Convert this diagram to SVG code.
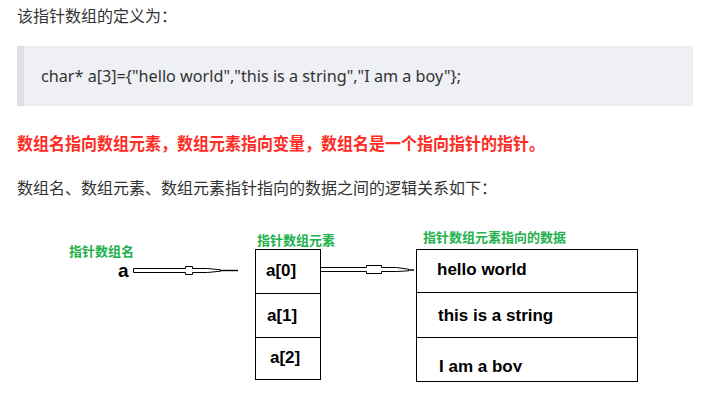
<svg xmlns="http://www.w3.org/2000/svg" width="722" height="401" viewBox="0 0 722 401">
<style>
.p{font-family:"Noto Sans CJK SC","Noto Sans",sans-serif;font-size:16px;fill:#333}
.red{font-family:"Noto Sans CJK SC",sans-serif;font-size:17px;font-weight:bold;fill:#fe2c24}
.code{font-family:"Noto Sans","Liberation Sans",sans-serif;font-size:16px;fill:#333}
.g{font-family:"Noto Sans CJK SC",sans-serif;font-size:13px;font-weight:bold;fill:#22b14c}
.t{font-family:"Liberation Sans",Arial,sans-serif;font-size:17px;font-weight:bold;fill:#000}
.box{fill:#fff;stroke:#000;stroke-width:1}
.arw{fill:#fff;stroke:#000;stroke-width:1}
.tip{stroke:#000;stroke-width:1.4}
</style>
<defs>
<clipPath id="clipBoy"><rect x="416" y="337" width="222" height="35"/></clipPath>
</defs>
<rect width="722" height="401" fill="#fff"/>
<g id="intro"><text class="p" x="17" y="22">该指针数组的定义为：</text></g>
<g id="codeblock">
<rect x="17" y="46" width="676" height="60" fill="#eef0f4"/>
<rect x="17" y="46" width="7" height="60" fill="#dddfe4"/>
<text class="code" x="41" y="82" textLength="420" lengthAdjust="spacingAndGlyphs">char* a[3]={"hello world","this is a string","I am a boy"};</text>
</g>
<g id="highlight"><text class="red" x="17" y="150" textLength="528" lengthAdjust="spacingAndGlyphs">数组名指向数组元素，数组元素指向变量，数组名是一个指向指针的指针。</text></g>
<g id="desc"><text class="p" x="17" y="194">数组名、数组元素、数组元素指针指向的数据之间的逻辑关系如下：</text></g>

<g id="array-name">
<text class="g" x="69" y="256">指针数组名</text>
<text class="t" x="118" y="277" style="font-size:19px">a</text>
</g>

<g id="elements">
<text class="g" x="257" y="245">指针数组元素</text>
<rect class="box" x="255.5" y="249.5" width="65" height="130"/>
<line x1="255.5" y1="293.5" x2="320.5" y2="293.5" stroke="#000"/>
<line x1="255.5" y1="337.5" x2="320.5" y2="337.5" stroke="#000"/>
<text class="t" x="266" y="276">a[0]</text>
<text class="t" x="267" y="321">a[1]</text>
<text class="t" x="270" y="363">a[2]</text>
</g>

<g id="data">
<text class="g" x="423" y="242">指针数组元素指向的数据</text>
<rect class="box" x="416.5" y="249.5" width="221" height="132"/>
<line x1="416.5" y1="292.5" x2="637.5" y2="292.5" stroke="#000"/>
<line x1="416.5" y1="337.5" x2="637.5" y2="337.5" stroke="#000"/>
<text class="t" x="437" y="275">hello world</text>
<text class="t" x="438" y="321">this is a string</text>
<text class="t" x="439" y="372" clip-path="url(#clipBoy)">I am a boy</text>
</g>

<g id="connectors">
<path class="arw" d="M133.5,268.5 H185.5 V266.5 H192.5 V268.5 H207.5 L220.5,269.8 V271.2 L207.5,272.5 H192.5 V274.5 H185.5 V272.5 H133.5 Z"/>
<line class="tip" x1="220" y1="270.5" x2="238" y2="270.5"/>
<path class="arw" d="M320.5,267.5 H366.5 V265.5 H381.5 V267.5 H396.5 L408.5,269.2 V270.8 L396.5,271.5 H381.5 V273.5 H366.5 V271.5 H320.5 Z"/>
<line class="tip" x1="408" y1="270" x2="414" y2="270"/>
</g>
</svg>
